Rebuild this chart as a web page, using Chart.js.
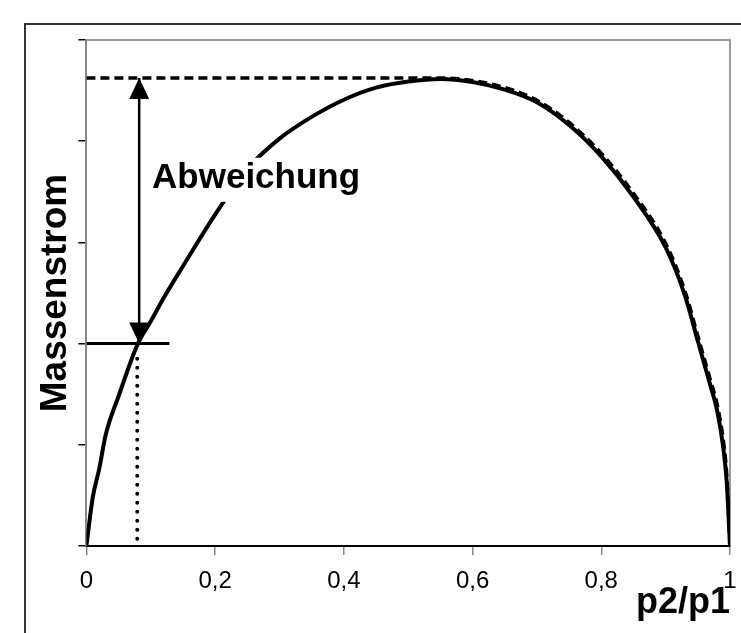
<!DOCTYPE html>
<html><head><meta charset="utf-8">
<script src="https://cdn.jsdelivr.net/npm/chart.js@4/dist/chart.umd.min.js"></script>
<style>html,body{margin:0;padding:0;background:#fff;}canvas{display:block;}</style>
</head><body>
<canvas id="c" width="741" height="633"></canvas>
<script>
// Measured mass-flow curve (solid)
const pressureRatio = [0, 0.01, 0.02, 0.03, 0.05, 0.08, 0.10, 0.12, 0.15, 0.20, 0.25, 0.30, 0.35, 0.40, 0.45, 0.50, 0.55, 0.60, 0.65, 0.70, 0.75, 0.80, 0.85, 0.90, 0.93, 0.95, 0.97, 0.98, 0.99, 0.995, 1.0];
const massFlow      = [0, 0.097, 0.153, 0.22, 0.296, 0.40, 0.444, 0.49, 0.553, 0.655, 0.745, 0.805, 0.848, 0.882, 0.906, 0.918, 0.923, 0.917, 0.902, 0.877, 0.832, 0.77, 0.69, 0.59, 0.495, 0.405, 0.315, 0.268, 0.19, 0.125, 0];
// Maximum flow / ellipse reference (dashed)
const limitRatio = [0, 0.55, 0.60, 0.65, 0.70, 0.75, 0.80, 0.85, 0.90, 0.93, 0.95, 0.97, 0.98, 0.99, 0.995, 1.0];
const limitFlow  = [0.925, 0.925, 0.92, 0.906, 0.881, 0.837, 0.776, 0.697, 0.598, 0.504, 0.415, 0.326, 0.28, 0.205, 0.14, 0];
// Deviation arrow, marker line and drop line
const arrowX = [0.082, 0.082];
const arrowY = [0.925, 0.40];
const markerX = [0, 0.129];
const markerY = [0.40, 0.40];
const dropX = [0.079, 0.079];
const dropY = [0.37, 0];
const noteText = 'Abweichung';
const noteAt = [0.102, 0.708];
const xTitle = 'p2/p1';
const yTitle = 'Massenstrom';

const pts = (xs, ys) => xs.map((x, i) => ({x, y: ys[i]}));
const FONT = "'Liberation Sans', Arial, sans-serif";

const framePlugin = {
  id: 'frame',
  beforeDraw(chart) {
    const ctx = chart.ctx;
    ctx.save();
    ctx.fillStyle = '#fff';
    ctx.fillRect(0, 0, chart.width, chart.height);
    ctx.strokeStyle = '#333';
    ctx.lineWidth = 2;
    ctx.beginPath();
    ctx.moveTo(25, chart.height);
    ctx.lineTo(25, 24);
    ctx.lineTo(chart.width, 24);
    ctx.stroke();
    const a = chart.chartArea;
    ctx.strokeStyle = '#999';
    ctx.lineWidth = 2;
    ctx.beginPath();
    ctx.moveTo(a.left, a.top);
    ctx.lineTo(a.right, a.top);
    ctx.lineTo(a.right, a.bottom);
    ctx.stroke();
    ctx.restore();
  }
};

const arrowPlugin = {
  id: 'arrows',
  afterDatasetsDraw(chart) {
    const ctx = chart.ctx;
    const meta = chart.getDatasetMeta(2);
    const [p0, p1] = meta.data;
    const w = 10, h = 21;
    ctx.save();
    ctx.fillStyle = '#000';
    ctx.beginPath();
    ctx.moveTo(p0.x, p0.y);
    ctx.lineTo(p0.x - w, p0.y + h);
    ctx.lineTo(p0.x + w, p0.y + h);
    ctx.closePath();
    ctx.fill();
    ctx.beginPath();
    ctx.moveTo(p1.x, p1.y);
    ctx.lineTo(p1.x - w, p1.y - h);
    ctx.lineTo(p1.x + w, p1.y - h);
    ctx.closePath();
    ctx.fill();
    const xs = chart.scales.x, ys = chart.scales.y;
    const tx = xs.getPixelForValue(noteAt[0]);
    const ty = ys.getPixelForValue(noteAt[1]);
    ctx.font = "bold 35px " + FONT;
    const tw = ctx.measureText(noteText).width;
    ctx.fillStyle = '#fff';
    ctx.fillRect(tx - 2, ty - 30, tw + 4, 44);
    ctx.fillStyle = '#000';
    ctx.textBaseline = 'alphabetic';
    ctx.fillText(noteText, tx, ty);
    ctx.restore();
  }
};

new Chart(document.getElementById('c'), {
  type: 'scatter',
  data: {
    datasets: [
      { data: pts(limitRatio, limitFlow), showLine: true, borderColor: '#000', borderWidth: 3.5, borderDash: [9, 5], pointRadius: 0, cubicInterpolationMode: 'monotone', order: 5 },
      { data: pts(pressureRatio, massFlow), showLine: true, borderColor: '#000', borderWidth: 4, pointRadius: 0, cubicInterpolationMode: 'monotone', order: 4 },
      { data: pts(arrowX, arrowY), showLine: true, borderColor: '#000', borderWidth: 2.5, pointRadius: 0, order: 3 },
      { data: pts(markerX, markerY), showLine: true, borderColor: '#000', borderWidth: 3, pointRadius: 0, order: 2 },
      { data: pts(dropX, dropY), showLine: true, borderColor: '#000', borderWidth: 4, borderDash: [0, 9], borderCapStyle: 'round', pointRadius: 0, order: 1 }
    ]
  },
  options: {
    responsive: false,
    animation: false,
    devicePixelRatio: 1,
    layout: { padding: { top: 40, right: 11, left: 34, bottom: 8 } },
    plugins: { legend: { display: false }, tooltip: { enabled: false } },
    scales: {
      x: {
        type: 'linear', min: 0, max: 1,
        afterFit: s => { s.paddingRight = 0; },
        ticks: { stepSize: 0.2, color: '#000', font: { family: FONT, size: 24 }, padding: 12,
          callback: v => String(Math.round(v * 10) / 10).replace('.', ',') },
        grid: { drawOnChartArea: false, drawTicks: true, tickLength: 9, color: '#888', lineWidth: 1.5 },
        border: { color: '#000', width: 2 },
        title: { display: true, text: xTitle, align: 'end', color: '#000', font: { family: FONT, size: 36, weight: 'bold' }, padding: { top: -26, bottom: 0 } }
      },
      y: {
        min: 0, max: 1,
        ticks: { stepSize: 0.2, display: false },
        grid: { drawOnChartArea: false, drawTicks: true, tickLength: 8, color: '#000', lineWidth: 1.5 },
        border: { color: '#888', width: 2 },
        title: { display: true, text: yTitle, color: '#000', font: { family: FONT, size: 37, weight: 'bold' }, padding: { top: 0, bottom: 0 } }
      }
    }
  },
  plugins: [framePlugin, arrowPlugin]
});
</script>
</body></html>
